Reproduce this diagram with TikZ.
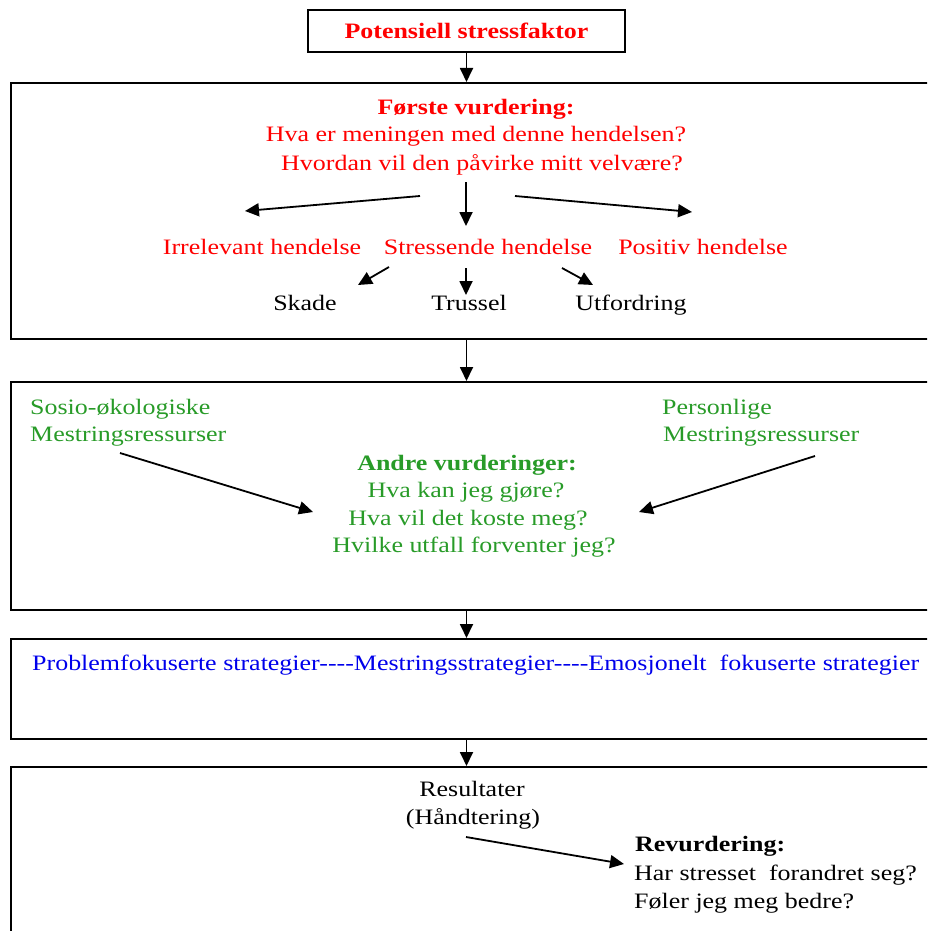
\documentclass[tikz,border=0pt]{standalone}
\usepackage{fontspec}
\setmainfont{Liberation Serif}[FakeStretch=1.18]
\usetikzlibrary{arrows.meta}
\definecolor{stressred}{RGB}{255,0,0}
\definecolor{copegreen}{RGB}{40,155,40}
\definecolor{stratblue}{RGB}{0,0,235}
\tikzset{
  panel/.style={draw, line width=1.8pt, anchor=north west, inner sep=0pt},
  body/.style={inner sep=0pt, anchor=base, font=\fontsize{22}{28}\selectfont},
  head/.style={body, font=\fontsize{22}{28}\selectfont\bfseries},
  arr/.style={-{Triangle[length=14pt,width=13pt]}, line width=1.8pt},
}
\begin{document}
\begin{tikzpicture}[x=1pt, y=-1pt]
        \useasboundingbox (0,0) rectangle (927,931);
        \clip (0,0) rectangle (927,931);

        % Potensiell stressfaktor
        \node[draw, line width=1.8pt, minimum width=317pt, minimum height=42pt, inner sep=0pt,
              text=stressred, font=\fontsize{22}{28}\selectfont\bfseries] (stressor) at (466.5,31) {Potensiell stressfaktor};

        % Boxes
        \node[panel, minimum width=930pt, minimum height=256pt] (first) at (10,82) {};
        \node[panel, minimum width=930pt, minimum height=228pt] (second) at (10,381) {};
        \node[panel, minimum width=930pt, minimum height=100pt] (third) at (10,638) {};
        \node[panel, minimum width=930pt, minimum height=180pt] (fourth) at (10,766) {};

        \draw[arr] (stressor.south) -- (stressor.south |- first.north);
        \draw[arr] (first.south -| stressor.south) -- (stressor.south |- second.north);
        \draw[arr] (second.south -| stressor.south) -- (stressor.south |- third.north);
        \draw[arr] (third.south -| stressor.south) -- (stressor.south |- fourth.north);

        % Første vurdering
        \node[head, text=stressred] (primary) at (476,114) {Første vurdering:};
        \node[body, text=stressred] (meaning) at (476,142) {Hva er meningen med denne hendelsen?};
        \node[body, text=stressred] (wellbeing) at (482,170) {Hvordan vil den påvirke mitt velvære?};

        \node[body, text=stressred] (irrelevant) at (262,254) {Irrelevant hendelse};
        \node[body, text=stressred] (stressful) at (488,254) {Stressende hendelse};
        \node[body, text=stressred] (positive) at (703,254) {Positiv hendelse};

        \node[body] (harm) at (305,310) {Skade};
        \node[body] (threat) at (469,310) {Trussel};
        \node[body] (challenge) at (631,310) {Utfordring};

        \coordinate (forkL) at (420,196);
        \coordinate (forkM) at (466,182);
        \coordinate (forkR) at (515,196);
        \coordinate (tipL) at (245,211);
        \coordinate (tipM) at (466,226);
        \coordinate (tipR) at (692,212);
        \draw[arr] (forkL) -- (tipL);
        \draw[arr] (forkM) -- (tipM);
        \draw[arr] (forkR) -- (tipR);

        \coordinate (splitL) at (389,267);
        \coordinate (splitM) at (466,268);
        \coordinate (splitR) at (562,268);
        \coordinate (endL) at (358,285);
        \coordinate (endM) at (466,295);
        \coordinate (endR) at (593,285);
        \draw[arr] (splitL) -- (endL);
        \draw[arr] (splitM) -- (endM);
        \draw[arr] (splitR) -- (endR);

        % Andre vurderinger
        \node[body, anchor=base west, text=copegreen] (socio) at (30,414) {Sosio-økologiske};
        \node[body, anchor=base west, text=copegreen] (socioRes) at (30,441) {Mestringsressurser};
        \node[body, anchor=base west, text=copegreen] (personal) at (662,414) {Personlige};
        \node[body, anchor=base west, text=copegreen] (personalRes) at (663,441) {Mestringsressurser};

        \node[head, text=copegreen] (secondary) at (467,470) {Andre vurderinger:};
        \node[body, text=copegreen] (cando) at (466,497) {Hva kan jeg gjøre?};
        \node[body, text=copegreen] (cost) at (468,525) {Hva vil det koste meg?};
        \node[body, text=copegreen] (outcome) at (474,552) {Hvilke utfall forventer jeg?};

        \coordinate (socioFrom) at (120,453);
        \coordinate (socioTo) at (313,512);
        \coordinate (personalFrom) at (815,456);
        \coordinate (personalTo) at (639,512);
        \draw[arr] (socioFrom) -- (socioTo);
        \draw[arr] (personalFrom) -- (personalTo);

        % Mestringsstrategier
        \node[body, anchor=base west, text=stratblue] (strategies) at (32,670)
             {Problemfokuserte strategier-{}-{}-{}-Mestringsstrategier-{}-{}-{}-Emosjonelt\ \ fokuserte strategier};

        % Resultater og revurdering
        \node[body] (results) at (472,796) {Resultater};
        \node[body] (handling) at (473,824) {(Håndtering)};
        \node[head, anchor=base west] (reappraisal) at (635,851) {Revurdering:};
        \node[body, anchor=base west] (changed) at (634,880) {Har stresset\ \ forandret seg?};
        \node[body, anchor=base west] (better) at (634,908) {Føler jeg meg bedre?};

        \coordinate (resultFrom) at (466,837);
        \coordinate (resultTo) at (624,864);
        \draw[arr] (resultFrom) -- (resultTo);

\end{tikzpicture}
\end{document}
